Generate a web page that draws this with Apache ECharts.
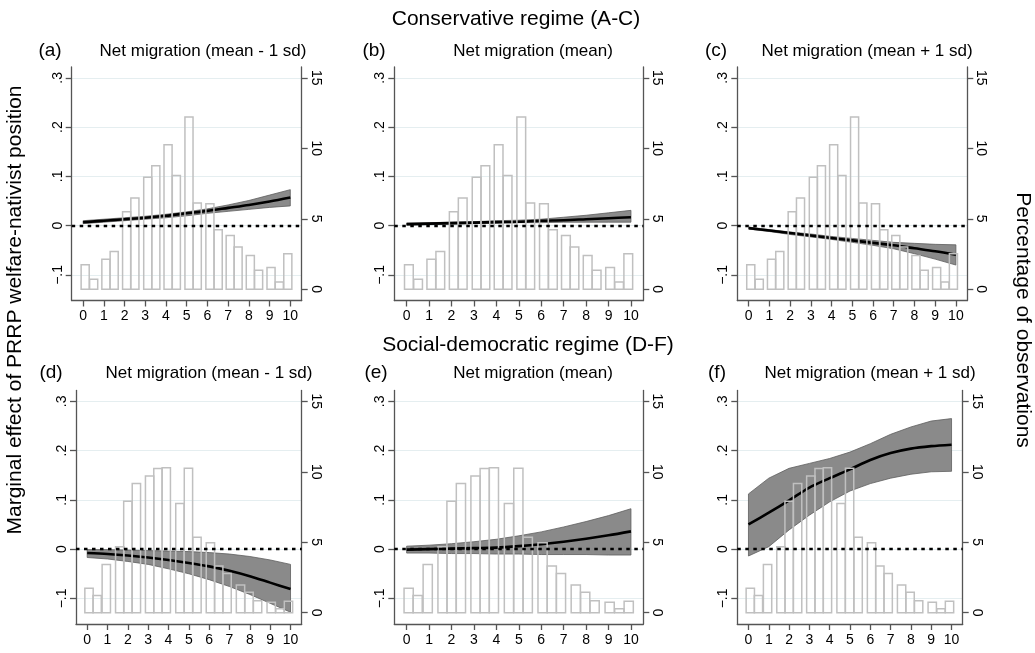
<!DOCTYPE html>
<html>
<head>
<meta charset="utf-8">
<script src="https://cdn.jsdelivr.net/npm/echarts@6/dist/echarts.min.js"></script>
<style>html,body{margin:0;background:#fff}#chart{width:1035px;height:653px}</style>
</head>
<body>
<div id="chart"></div>
<script>
// x values where the marginal effect is evaluated
var xs = [0, 1, 2, 3, 4, 5, 6, 7, 8, 9, 10];
var xTicks = [0, 1, 2, 3, 4, 5, 6, 7, 8, 9, 10];
var leftTicks = [-0.1, 0, 0.1, 0.2, 0.3];
var rightTicks = [0, 5, 10, 15];

// histogram, conservative regime (percent of observations)
var topBinX = [0.1, 0.51, 1.1, 1.5, 2.1, 2.5, 3.12, 3.51, 4.1, 4.5, 5.11, 5.51, 6.12, 6.52, 7.1, 7.48, 8.07, 8.47, 9.07, 9.47, 9.88];
var topPct = [1.73, 0.71, 2.13, 2.68, 5.5, 6.47, 7.94, 8.77, 10.26, 8.07, 12.23, 6.12, 6.07, 4.22, 3.82, 2.99, 2.4, 1.35, 1.55, 0.52, 2.51];
var topBinW = 0.39;
// histogram, social-democratic regime
var botBinX = [0.09, 0.49, 0.94, 1.6, 2.0, 2.42, 3.07, 3.48, 3.89, 4.56, 4.98, 5.4, 6.06, 6.47, 6.88, 7.54, 7.96, 8.38, 9.05, 9.48, 9.9];
var botPct = [1.73, 1.23, 3.43, 4.69, 7.91, 9.17, 9.71, 10.23, 10.28, 7.75, 10.26, 5.35, 4.97, 3.31, 2.79, 1.96, 1.46, 0.85, 0.75, 0.28, 0.82];
var botBinW = 0.41;

// marginal effects with confidence bands
var midA = [0.007, 0.010, 0.013, 0.016, 0.020, 0.025, 0.030, 0.036, 0.042, 0.049, 0.057];
var loA  = [0.004, 0.007, 0.010, 0.013, 0.016, 0.020, 0.025, 0.029, 0.033, 0.037, 0.040];
var hiA  = [0.010, 0.013, 0.016, 0.019, 0.023, 0.028, 0.034, 0.042, 0.051, 0.062, 0.073];

var midB = [0.003, 0.004, 0.005, 0.006, 0.007, 0.008, 0.010, 0.011, 0.013, 0.015, 0.017];
var loB  = [0.001, 0.002, 0.003, 0.004, 0.005, 0.006, 0.006, 0.007, 0.007, 0.007, 0.007];
var hiB  = [0.005, 0.006, 0.007, 0.008, 0.010, 0.011, 0.013, 0.017, 0.021, 0.026, 0.031];

var midC = [-0.005, -0.010, -0.015, -0.020, -0.025, -0.030, -0.035, -0.040, -0.046, -0.052, -0.059];
var loC  = [-0.007, -0.012, -0.018, -0.023, -0.028, -0.034, -0.040, -0.047, -0.057, -0.068, -0.080];
var hiC  = [-0.003, -0.008, -0.013, -0.017, -0.022, -0.026, -0.030, -0.034, -0.036, -0.038, -0.039];

var midD = [-0.008, -0.010, -0.013, -0.017, -0.022, -0.028, -0.035, -0.044, -0.055, -0.068, -0.081];
var loD  = [-0.017, -0.020, -0.025, -0.031, -0.040, -0.050, -0.062, -0.076, -0.092, -0.110, -0.128];
var hiD  = [-0.001, -0.001, -0.002, -0.003, -0.004, -0.005, -0.007, -0.010, -0.015, -0.022, -0.031];

var midE = [-0.001, 0.000, 0.001, 0.002, 0.003, 0.006, 0.010, 0.015, 0.021, 0.028, 0.036];
var loE  = [-0.008, -0.008, -0.009, -0.009, -0.010, -0.010, -0.011, -0.011, -0.011, -0.012, -0.012];
var hiE  = [0.006, 0.008, 0.011, 0.015, 0.020, 0.027, 0.035, 0.045, 0.056, 0.068, 0.082];

var midF = [0.050, 0.074, 0.099, 0.125, 0.144, 0.162, 0.181, 0.195, 0.204, 0.209, 0.212];
var loF  = [-0.014, 0.005, 0.039, 0.069, 0.096, 0.118, 0.133, 0.144, 0.152, 0.157, 0.158];
var hiF  = [0.112, 0.144, 0.164, 0.174, 0.184, 0.197, 0.214, 0.233, 0.248, 0.260, 0.265];

var FONT = '"Liberation Sans", Arial, sans-serif';
var TXT = '#000';
var AXIS = '#555';

// one entry per panel: [left, top, width] of the plot box and header x positions
var panels = [
  {tag: '(a)', sub: 'Net migration (mean - 1 sd)', mid: midA, lo: loA, hi: hiA, bx: topBinX, pct: topPct, bw: topBinW, box: [71.7, 67, 230], tagX: 50, subX: 203},
  {tag: '(b)', sub: 'Net migration (mean)',        mid: midB, lo: loB, hi: hiB, bx: topBinX, pct: topPct, bw: topBinW, box: [394.3, 67, 249], tagX: 374, subX: 533},
  {tag: '(c)', sub: 'Net migration (mean + 1 sd)', mid: midC, lo: loC, hi: hiC, bx: topBinX, pct: topPct, bw: topBinW, box: [737.3, 67, 230], tagX: 716, subX: 867},
  {tag: '(d)', sub: 'Net migration (mean - 1 sd)', mid: midD, lo: loD, hi: hiD, bx: botBinX, pct: botPct, bw: botBinW, box: [76, 390.5, 225.7], tagX: 51, subX: 209},
  {tag: '(e)', sub: 'Net migration (mean)',        mid: midE, lo: loE, hi: hiE, bx: botBinX, pct: botPct, bw: botBinW, box: [394.3, 390.5, 249], tagX: 376, subX: 533},
  {tag: '(f)', sub: 'Net migration (mean + 1 sd)', mid: midF, lo: loF, hi: hiF, bx: botBinX, pct: botPct, bw: botBinW, box: [737.3, 390.5, 225.4], tagX: 717, subX: 870}
];

function fmtLeft(v) {
  if (v === 0) return '0';
  return (v < 0 ? '\u2212' : '') + String(Math.abs(v)).replace(/^0/, '');
}

var grids = [], xAxes = [], yAxes = [], series = [], graphics = [];

panels.forEach(function (p, i) {
  grids.push({left: p.box[0], top: p.box[1], width: p.box[2], height: 233.5});
  xAxes.push({
    type: 'value', gridIndex: i, min: -0.55, max: 10.55,
    axisLine: {show: true, onZero: false, lineStyle: {color: AXIS, width: 1.3}},
    axisTick: {show: true, length: 6, customValues: xTicks, lineStyle: {color: AXIS, width: 1.3}},
    axisLabel: {customValues: xTicks, margin: 9, fontSize: 14, fontFamily: FONT, color: TXT},
    splitLine: {show: false}
  });
  yAxes.push({
    type: 'value', gridIndex: i, position: 'left', min: -0.152, max: 0.322,
    axisLine: {show: true, onZero: false, lineStyle: {color: AXIS, width: 1.3}},
    axisTick: {show: true, length: 6, customValues: leftTicks, lineStyle: {color: AXIS, width: 1.3}},
    axisLabel: {customValues: leftTicks, rotate: 90, margin: 7, fontSize: 14, fontFamily: FONT, color: TXT, formatter: fmtLeft},
    splitLine: {show: true, lineStyle: {color: '#e5eef0', width: 1}}
  });
  yAxes.push({
    type: 'value', gridIndex: i, position: 'right', min: -0.8, max: 15.77,
    axisLine: {show: true, onZero: false, lineStyle: {color: AXIS, width: 1.3}},
    axisTick: {show: true, length: 6, customValues: rightTicks, lineStyle: {color: AXIS, width: 1.3}},
    axisLabel: {customValues: rightTicks, rotate: -90, margin: 7, fontSize: 14, fontFamily: FONT, color: TXT},
    splitLine: {show: false}
  });

  // confidence band
  series.push({
    type: 'custom', xAxisIndex: i, yAxisIndex: 2 * i, z: 2, silent: true,
    data: [[0, 0]],
    renderItem: function (params, api) {
      var pts = [];
      for (var k = 0; k < xs.length; k++) pts.push(api.coord([xs[k], p.hi[k]]));
      for (var k = xs.length - 1; k >= 0; k--) pts.push(api.coord([xs[k], p.lo[k]]));
      return {type: 'polygon', shape: {points: pts}, style: {fill: '#8a8a8a', stroke: '#5e5e5e', lineWidth: 0.8}};
    }
  });
  // marginal effect line + zero reference
  series.push({
    type: 'line', xAxisIndex: i, yAxisIndex: 2 * i, z: 3, silent: true,
    data: xs.map(function (x, k) { return [x, p.mid[k]]; }),
    symbol: 'none', smooth: 0.3,
    lineStyle: {color: '#000', width: 2.6},
    markLine: {
      silent: true, symbol: 'none', label: {show: false},
      lineStyle: {color: '#000', type: [3.5, 4.5], width: 2.4},
      data: [{yAxis: 0}]
    }
  });
  // histogram of observations (right axis)
  series.push({
    type: 'custom', xAxisIndex: i, yAxisIndex: 2 * i + 1, z: 4, silent: true,
    data: p.bx.map(function (x, k) { return [x, p.pct[k]]; }),
    renderItem: function (params, api) {
      var x = api.value(0), v = api.value(1);
      var a = api.coord([x - p.bw / 2, v]);
      var b = api.coord([x + p.bw / 2, 0]);
      return {type: 'rect', shape: {x: a[0], y: a[1], width: b[0] - a[0], height: b[1] - a[1]},
              style: {fill: 'none', stroke: '#c0c0c0', lineWidth: 1.5}};
    }
  });

  var hy = p.box[1] < 200 ? 51 : 373;
  graphics.push({type: 'text', x: p.tagX, y: hy, style: {text: p.tag, font: '19px ' + FONT, fill: TXT, textAlign: 'center', textVerticalAlign: 'middle'}});
  graphics.push({type: 'text', x: p.subX, y: hy, style: {text: p.sub, font: '17px ' + FONT, fill: TXT, textAlign: 'center', textVerticalAlign: 'middle'}});
});

graphics.push({type: 'text', x: 516, y: 19, style: {text: 'Conservative regime (A-C)', font: '21px ' + FONT, fill: TXT, textAlign: 'center', textVerticalAlign: 'middle'}});
graphics.push({type: 'text', x: 528, y: 345, style: {text: 'Social-democratic regime (D-F)', font: '21px ' + FONT, fill: TXT, textAlign: 'center', textVerticalAlign: 'middle'}});
graphics.push({type: 'text', x: 15, y: 310, rotation: Math.PI / 2, style: {text: 'Marginal effect of PRRP welfare-nativist position', font: '21px ' + FONT, fill: TXT, textAlign: 'center', textVerticalAlign: 'middle'}});
graphics.push({type: 'text', x: 1023, y: 320, rotation: -Math.PI / 2, style: {text: 'Percentage of observations', font: '21px ' + FONT, fill: TXT, textAlign: 'center', textVerticalAlign: 'middle'}});

var myChart = echarts.init(document.getElementById('chart'));
myChart.setOption({
  backgroundColor: '#fff',
  animation: false,
  grid: grids,
  xAxis: xAxes,
  yAxis: yAxes,
  series: series,
  graphic: graphics
});
</script>
</body>
</html>
